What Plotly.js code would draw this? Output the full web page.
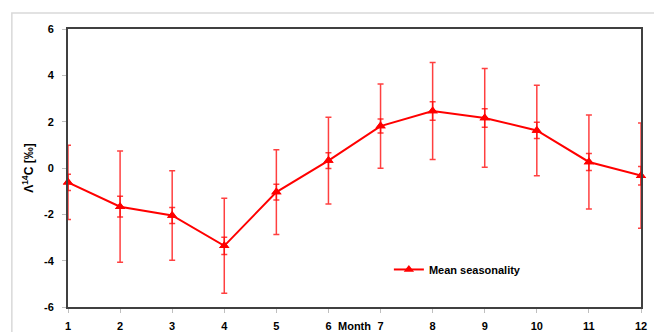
<!DOCTYPE html>
<html>
<head>
<meta charset="utf-8">
<script src="https://cdn.plot.ly/plotly-3.0.1.min.js"></script>
<style>html,body{margin:0;padding:0;background:#fff;}#chart{width:654px;height:332px;}</style>
</head>
<body>
<div id="chart"></div>
<script>
const months = [1, 2, 3, 4, 5, 6, 7, 8, 9, 10, 11, 12];
const meanSeasonality = [-0.62, -1.67, -2.05, -3.36, -1.04, 0.32, 1.81, 2.46, 2.16, 1.62, 0.26, -0.33];
const errorLarge = [1.6, 2.4, 1.93, 2.05, 1.83, 1.87, 1.82, 2.09, 2.13, 1.95, 2.03, 2.27];
const errorSmall = [0.35, 0.45, 0.35, 0.37, 0.34, 0.34, 0.3, 0.4, 0.4, 0.35, 0.37, 0.4];
const yTicks = [-6, -4, -2, 0, 2, 4, 6];

const red = '#ff0000';
const errColor = 'rgba(255,0,0,0.75)';
const font = {family: 'Liberation Sans, Arial, sans-serif', size: 11, color: '#000'};

const traces = [
  {
    x: months, y: meanSeasonality, type: 'scatter', mode: 'markers',
    marker: {symbol: 'triangle-up', size: 9, color: red},
    error_y: {type: 'data', array: errorLarge, visible: true, color: errColor, thickness: 1.5, width: 3},
    showlegend: false, cliponaxis: false, hoverinfo: 'skip'
  },
  {
    x: months, y: meanSeasonality, type: 'scatter', mode: 'lines+markers',
    name: '<b>Mean seasonality</b>',
    line: {color: red, width: 2},
    marker: {symbol: 'triangle-up', size: 9, color: red},
    error_y: {type: 'data', array: errorSmall, visible: true, color: errColor, thickness: 1.5, width: 3},
    cliponaxis: false
  }
];

const layout = {
  width: 654, height: 332,
  margin: {l: 68, r: 13, t: 29, b: 25},
  paper_bgcolor: '#fff', plot_bgcolor: '#fff',
  font: font,
  showlegend: true,
  legend: {x: 0.56, y: 0.135, xanchor: 'left', yanchor: 'middle', bgcolor: 'rgba(0,0,0,0)', font: font, itemwidth: 30},
  xaxis: {
    range: [1, 12], tickmode: 'array', tickvals: months, ticktext: months.map(m => '<b>' + m + '</b>'),
    showgrid: false, zeroline: false, showline: true, linecolor: '#404040', linewidth: 2, mirror: true,
    ticks: 'outside', ticklen: 4, tickcolor: '#bfbfbf', tickwidth: 1, ticklabelstandoff: 4,
    tickfont: font, fixedrange: true
  },
  yaxis: {
    range: [-6, 6], tickmode: 'array', tickvals: yTicks, ticktext: yTicks.map(v => '<b>' + v + '</b>'),
    showgrid: false, zeroline: false, showline: true, linecolor: '#404040', linewidth: 2, mirror: true,
    ticks: 'outside', ticklen: 4, tickcolor: '#bfbfbf', tickwidth: 1, ticklabelstandoff: 6,
    tickfont: font, fixedrange: true,
    title: {text: '<b>Λ<sup>14</sup>C [‰]</b>', font: {family: font.family, size: 12, color: '#000'}, standoff: 8}
  },
  annotations: [
    {text: '<b>Month</b>', xref: 'x', yref: 'paper', x: 6.5, y: -0.07, yanchor: 'middle', showarrow: false, font: font}
  ],
  shapes: [
    {type: 'rect', xref: 'paper', yref: 'paper', x0: -0.098, x1: 1.04, y0: -0.15, y1: 1.0576,
     line: {color: '#d9d9d9', width: 1.5}, fillcolor: 'rgba(0,0,0,0)', layer: 'below'}
  ]
};

Plotly.newPlot('chart', traces, layout, {displayModeBar: false, staticPlot: true});
</script>
</body>
</html>
